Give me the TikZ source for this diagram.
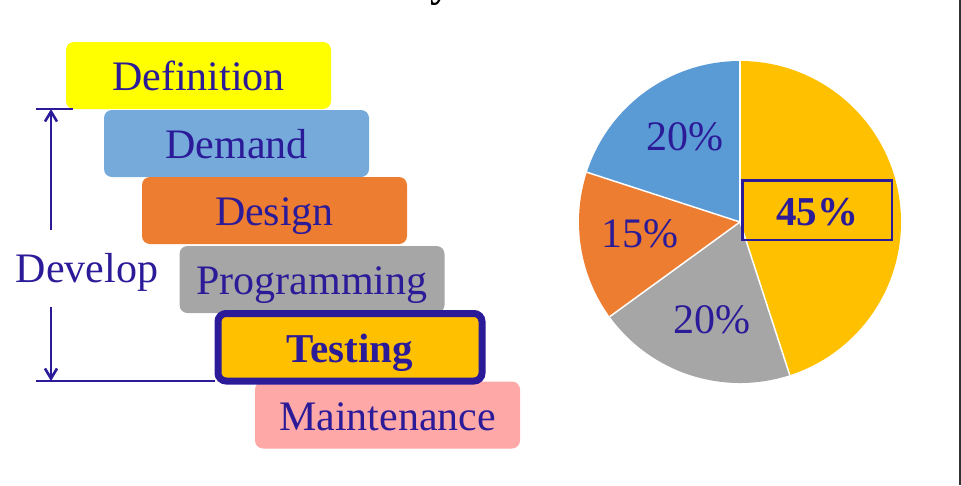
\documentclass[tikz,border=0pt]{standalone}
\usepackage{fontspec}
\setmainfont{Liberation Serif}
\usetikzlibrary{arrows.meta,positioning}
\definecolor{lcindigo}{HTML}{2B1B98}
\definecolor{lcyellow}{HTML}{FFFF00}
\definecolor{lcblue}{HTML}{76AADB}
\definecolor{lcorange}{HTML}{ED7D31}
\definecolor{lcgray}{HTML}{A6A6A6}
\definecolor{lcgold}{HTML}{FFC000}
\definecolor{lcpink}{HTML}{FFA8A8}
\definecolor{lcpieblue}{HTML}{5B9BD5}
\definecolor{lcframe}{HTML}{333333}
\tikzset{
  stage/.style={rounded corners=8pt, inner sep=0pt, minimum width=265pt, minimum height=67pt, text=lcindigo, font=\fontsize{42}{50}\selectfont, text height=30.5pt, text depth=0pt},
  testbox/.style={draw=lcindigo, line width=7pt, fill=lcgold, minimum width=264pt, minimum height=67.5pt, font=\fontsize{41}{50}\selectfont\bfseries},
  info/.style={text=lcindigo, inner sep=0pt, font=\fontsize{42}{50}\selectfont, text height=30.5pt, text depth=0pt},
  pctlabel/.style={info, anchor=base},
  dimline/.style={draw=lcindigo, line width=2.6pt},
  dimarrow/.style={dimline, -{Straight Barb[length=10pt,width=12pt]}}
}
\begin{document}
\begin{tikzpicture}[x=1pt,y=-1pt]
  \useasboundingbox (0,0) rectangle (961,485);
  \clip (0,0) rectangle (961,485);
  % title, cut off at the top
  \node[anchor=base, inner sep=0pt, font=\fontsize{42}{50}\selectfont\bfseries] (title) at (441,-4) {y};
  % life cycle stages
  \node[stage, fill=lcyellow] (definition) at (198.5,75.5) {Definition};
  \node[stage, fill=lcblue] (demand) at (236.5,143.5) {Demand};
  \node[stage, fill=lcorange] (design) at (274.5,210.5) {Design};
  \node[stage, fill=lcgray] (programming) at (312,279.5) {Programming};
  \node[stage, fill=lcpink] (maintenance) at (387.5,415) {Maintenance};
  \node[stage, testbox] (testing) at (350,347.25) {Testing};
  % develop span
  \node[info] (develop) at (87,266.75) {Develop};
  \coordinate (tickt) at (36,109);
  \coordinate (tickb) at (36,381);
  \coordinate (devtop) at (51,109);
  \coordinate (devbot) at (51,381);
  \draw[dimline] (tickt) -- +(37,0);
  \draw[dimline] (tickb) -- (tickb -| testing.west);
  \draw[dimarrow, shorten <=21.5pt] (develop.north -| devtop) -- (devtop);
  \draw[dimarrow, shorten <=25pt] (develop.south -| devbot) -- (devbot);
  % effort pie
  \begin{scope}[shift={(740,222)}, y=1pt]
    \fill[lcgold] (0,0) -- (90:161) arc[start angle=90, end angle=-72, radius=161] -- cycle;
    \fill[lcgray] (0,0) -- (-72:161) arc[start angle=-72, end angle=-144, radius=161] -- cycle;
    \fill[lcorange] (0,0) -- (-144:161) arc[start angle=-144, end angle=-198, radius=161] -- cycle;
    \fill[lcpieblue] (0,0) -- (162:161) arc[start angle=162, end angle=90, radius=161] -- cycle;
    \foreach \a in {90,-72,-144,162}
      \draw[white, line width=1.5pt] (0,0) -- (\a:161);
  \end{scope}
  \node[pctlabel] (pctblue) at (684.5,150) {20\%};
  \node[pctlabel] (pctorange) at (639.5,247) {15\%};
  \node[pctlabel] (pctgray) at (711.5,333) {20\%};
  \node[info, draw=lcindigo, line width=2.5pt, minimum width=149.5pt, minimum height=59.5pt, font=\fontsize{41}{50}\selectfont\bfseries] (pctgold) at (817,210) {45\%};
  % slide edge
  \draw[lcframe, line width=2pt] (960,0) -- (960,485);
\end{tikzpicture}
\end{document}
